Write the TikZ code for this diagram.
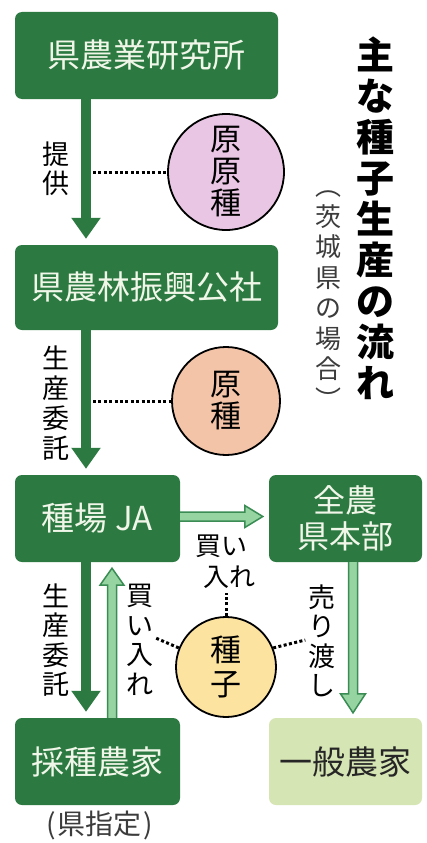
\documentclass[tikz,border=0pt]{standalone}
\usepackage{fontspec}
\setmainfont{Noto Sans CJK JP}
\usetikzlibrary{arrows.meta,calc}
\definecolor{dg}{RGB}{44,122,66}
\definecolor{boxtxt}{RGB}{240,246,232}
\definecolor{lgfill}{RGB}{150,212,162}
\definecolor{lgline}{RGB}{58,140,84}
\definecolor{pinkc}{RGB}{232,198,228}
\definecolor{salmonc}{RGB}{243,196,168}
\definecolor{yellowc}{RGB}{253,227,160}
\definecolor{ippanc}{RGB}{214,229,180}
\definecolor{graytxt}{RGB}{60,60,60}
\begin{document}
\begin{tikzpicture}[x=1pt,y=-1pt,
  gbox/.style={rectangle, rounded corners=7pt, fill=dg, text=boxtxt, inner sep=0pt,
    align=center, font=\fontsize{33}{37}\selectfont},
  lbox/.style={gbox, fill=ippanc, text=black!85},
  vlab/.style={inner sep=0pt, align=center, font=\fontsize{27}{29.5}\selectfont, text=black},
  circ/.style={circle, draw=black, line width=1.8pt, inner sep=0pt, align=center,
    font=\fontsize{31}{32}\selectfont, text=black},
  dotline/.style={line width=3pt, dash pattern=on 3pt off 2.4pt, black},
  darr/.style={dg, line width=10pt, -{Triangle[width=28pt,length=21pt]}, shorten >=6pt},
  larr/.style={fill=lgfill, draw=lgline, line width=1.5pt, line join=miter}
]
\useasboundingbox (0,0) rectangle (427,843);
\fill[white] (0,0) rectangle (427,843);

% boxes
\node[gbox, minimum width=263pt, minimum height=87pt] (b1) at (146.5,55.5) {県農業研究所};
\node[gbox, minimum width=263pt, minimum height=85pt] (b2) at (146.5,287.5) {県農林振興公社};
\node[gbox, minimum width=165pt, minimum height=87pt] (ja) at (97.5,518.5) {種場 JA};
\node[gbox, minimum width=153pt, minimum height=87pt, font=\fontsize{32}{36}\selectfont] (zn) at (345.5,518.5) {全農\\県本部};
\node[gbox, minimum width=165pt, minimum height=87pt] (sa) at (97.5,761.5) {採種農家};
\node[lbox, minimum width=153pt, minimum height=87pt] (ip) at (345.5,761.5) {一般農家};

% title
\node[inner sep=0pt, align=center, font=\bfseries\fontsize{38}{41}\selectfont] (title) at (375,218)
  {主\\な\\種\\子\\生\\産\\の\\流\\れ};
\node[inner sep=0pt, align=center, text=graytxt, font=\fontsize{26}{30.5}\selectfont] (sub) at (328,300)
  {︵\\茨\\城\\県\\の\\場\\合\\︶};

% circles
\node[circ, fill=pinkc, minimum size=116pt] (c1) at (226,172) {原\\原\\種};
\node[circ, fill=salmonc, minimum size=108pt] (c2) at (226,401) {原\\種};
\node[circ, fill=yellowc, minimum size=100pt, font=\fontsize{31}{34}\selectfont] (c3) at (226,667) {種\\子};

% labels
\node[vlab] (l1) at (56,169) {提\\供};
\node[vlab, font=\fontsize{27}{30}\selectfont] (l2) at (56,403) {生\\産\\委\\託};
\node[vlab] (l3) at (56,640) {生\\産\\委\\託};
\node[vlab] (l4) at (140,640) {買\\い\\入\\れ};
\node[vlab] (l5) at (322,641) {売\\り\\渡\\し};
\node[inner sep=0pt, align=left, font=\fontsize{26}{31}\selectfont] (l6) at (225,562) {買い\\\hspace*{8pt}入れ};
\node[inner sep=0pt, text=graytxt, font=\fontsize{28}{30}\selectfont] (l7) at (99.5,825) {(\kern2pt 県指定\kern2pt)};

% arrow axes
\coordinate (ax) at (86,0);
\coordinate (ux) at (112,0);
\coordinate (vx) at (353,0);

% dark arrows
\draw[darr] (ax |- b1.south) -- (ax |- b2.north);
\draw[darr] (ax |- b2.south) -- (ax |- ja.north);
\draw[darr] (ax |- ja.south) -- (ax |- sa.north);

% light arrows
\coordinate (e1) at ($(zn.west)+(-6,-2)$);
\coordinate (s1) at ($(ja.east)+(0,-2)$);
\filldraw[larr] ($(s1)+(0,-4.5)$) -- ($(e1)+(-18,-4.5)$) -- ($(e1)+(-18,-11)$) -- (e1)
  -- ($(e1)+(-18,11)$) -- ($(e1)+(-18,4.5)$) -- ($(s1)+(0,4.5)$);

\coordinate (s2) at (ux |- sa.north);
\coordinate (e2) at ($(ux |- ja.south)+(0,6)$);
\filldraw[larr] ($(s2)+(-4.5,0)$) -- ($(e2)+(-4.5,17)$) -- ($(e2)+(-12,17)$) -- (e2)
  -- ($(e2)+(12,17)$) -- ($(e2)+(4.5,17)$) -- ($(s2)+(4.5,0)$);

\coordinate (s3) at (vx |- zn.south);
\coordinate (e3) at ($(vx |- ip.north)+(0,-5)$);
\filldraw[larr] ($(s3)+(-4.5,0)$) -- ($(e3)+(-4.5,-19)$) -- ($(e3)+(-12.5,-19)$) -- (e3)
  -- ($(e3)+(12.5,-19)$) -- ($(e3)+(4.5,-19)$) -- ($(s3)+(4.5,0)$);

% dotted connectors
\draw[dotline] ($(ax |- c1.west)+(7,0)$) -- (c1.west);
\draw[dotline] ($(ax |- c2.west)+(7,0)$) -- (c2.west);
\draw[dotline] (c3.158) -- ($(l4.east)+(2,-2)$);
\draw[dotline] (c3.22) -- ($(l5.west)+(-3,-1)$);
\draw[dotline] (c3.north) -- ($(c3.north |- l6.south)+(0,4)$);
\end{tikzpicture}
\end{document}
